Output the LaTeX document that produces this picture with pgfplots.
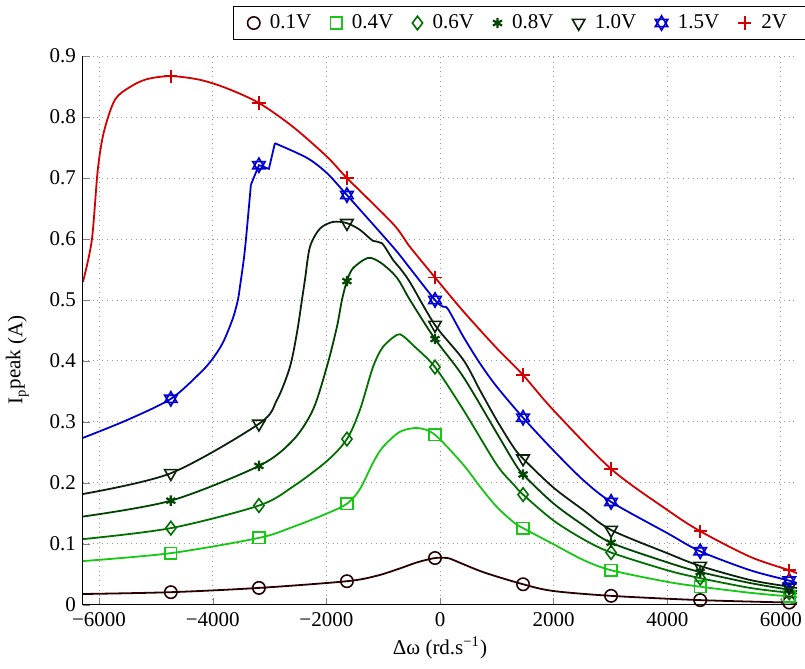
\documentclass[border=0pt]{standalone}
\usepackage{fontspec}
\setmainfont{Liberation Serif}
\usepackage{pgfplots}
\pgfplotsset{compat=1.18}
\usepackage{pgfplotstable}

\definecolor{cA}{RGB}{40,0,0}
\definecolor{cB}{RGB}{20,200,20}
\definecolor{cC}{RGB}{0,112,0}
\definecolor{cD}{RGB}{0,70,0}
\definecolor{cE}{RGB}{10,35,10}
\definecolor{cF}{RGB}{0,0,210}
\definecolor{cG}{RGB}{210,0,0}

\pgfdeclareplotmark{hexagram}{%
  \pgfpathmoveto{\pgfqpoint{0pt}{\pgfplotmarksize}}%
  \pgfpathlineto{\pgfqpoint{0.866\pgfplotmarksize}{-0.5\pgfplotmarksize}}%
  \pgfpathlineto{\pgfqpoint{-0.866\pgfplotmarksize}{-0.5\pgfplotmarksize}}%
  \pgfpathclose
  \pgfpathmoveto{\pgfqpoint{0pt}{-\pgfplotmarksize}}%
  \pgfpathlineto{\pgfqpoint{0.866\pgfplotmarksize}{0.5\pgfplotmarksize}}%
  \pgfpathlineto{\pgfqpoint{-0.866\pgfplotmarksize}{0.5\pgfplotmarksize}}%
  \pgfpathclose
  \pgfusepathqstroke}

% 0.1 V
\pgfplotstableread{
x y
-6283 0.018
-4737 0.021
-3187 0.028
-1638 0.039
-1109 0.048
-704 0.060
-400 0.070
-88 0.077
123 0.077
229 0.074
757 0.054
1462 0.034
1990 0.023
3011 0.015
4579 0.008
6146 0.004
6283 0.004
}\tA
% 0.4 V
\pgfplotstableread{
x y
-6283 0.072
-4737 0.085
-3187 0.110
-2589 0.128
-1990 0.150
-1638 0.166
-1409 0.190
-1180 0.233
-1004 0.259
-704 0.284
-387 0.290
-88 0.279
410 0.230
704 0.194
998 0.161
1291 0.136
1462 0.126
1990 0.100
2518 0.074
3011 0.057
3997 0.038
4579 0.030
5459 0.020
6146 0.014
6283 0.013
}\tB
% 0.6 V
\pgfplotstableread{
x y
-6283 0.108
-4737 0.126
-3187 0.163
-2589 0.194
-1990 0.236
-1638 0.272
-1409 0.320
-1180 0.390
-1004 0.423
-757 0.443
-652 0.441
-475 0.426
-88 0.390
410 0.320
998 0.230
1291 0.198
1462 0.181
1990 0.139
2518 0.108
3011 0.086
3997 0.057
4579 0.044
5459 0.028
6146 0.020
6283 0.019
}\tC
% 0.8 V
\pgfplotstableread{
x y
-6283 0.145
-4737 0.171
-3187 0.228
-2589 0.270
-2236 0.320
-1990 0.391
-1814 0.456
-1726 0.500
-1638 0.531
-1532 0.552
-1268 0.569
-1057 0.562
-828 0.544
-704 0.529
-528 0.500
-88 0.436
410 0.374
998 0.282
1291 0.236
1462 0.214
1990 0.167
2518 0.131
3011 0.102
3997 0.070
4579 0.054
5459 0.036
6146 0.025
6283 0.023
}\tD
% 1.0 V
\pgfplotstableread{
x y
-6283 0.182
-4737 0.216
-3187 0.297
-2870 0.336
-2642 0.390
-2518 0.446
-2430 0.500
-2377 0.533
-2289 0.587
-2113 0.617
-1884 0.628
-1638 0.626
-1409 0.615
-1180 0.597
-1021 0.593
-828 0.566
-704 0.552
-528 0.529
-88 0.459
410 0.402
704 0.352
998 0.303
1291 0.259
1462 0.240
1990 0.193
2518 0.156
3011 0.123
3997 0.085
4579 0.064
5459 0.041
6146 0.030
6283 0.028
}\tE
% 1.5 V (left, zigzag, right)
\pgfplotstableread{
x y
-6283 0.274
-5512 0.303
-4737 0.338
-4226 0.380
-4015 0.402
-3821 0.430
-3645 0.470
-3557 0.500
-3522 0.521
-3434 0.582
-3328 0.689
}\tFa
\pgfplotstableread{
x y
-3328 0.689
-3187 0.721
-3011 0.715
-2906 0.757
}\tFb
\pgfplotstableread{
x y
-2906 0.757
-2342 0.733
-1990 0.708
-1638 0.672
-828 0.587
-528 0.552
-88 0.500
53 0.489
141 0.485
410 0.440
704 0.396
998 0.358
1462 0.307
1990 0.254
2518 0.205
3011 0.169
3997 0.118
4579 0.088
5459 0.057
6146 0.040
6283 0.036
}\tFc
% 2 V
\pgfplotstableread{
x y
-6283 0.530
-6128 0.598
-6023 0.713
-5917 0.775
-5723 0.828
-5459 0.849
-5160 0.862
-4737 0.867
-4226 0.861
-3751 0.847
-3187 0.823
-2589 0.784
-1990 0.735
-1638 0.700
-828 0.625
-528 0.587
-88 0.537
405 0.482
998 0.421
1462 0.377
1990 0.320
3011 0.223
3997 0.156
4579 0.121
5459 0.079
6146 0.057
6283 0.052
}\tG

% marker positions
\pgfplotstableread{
x a b c d e f g
-4737 0.021 0.085 0.126 0.171 0.216 0.338 0.867
-3187 0.028 0.110 0.163 0.228 0.297 0.721 0.823
-1638 0.039 0.166 0.272 0.531 0.626 0.672 0.700
-88 0.077 0.279 0.390 0.436 0.459 0.500 0.537
1462 0.034 0.126 0.181 0.214 0.240 0.307 0.377
3011 0.015 0.057 0.086 0.102 0.123 0.169 0.223
4579 0.008 0.030 0.044 0.054 0.064 0.088 0.121
6146 0.004 0.014 0.020 0.025 0.030 0.040 0.057
}\tM

\begin{document}
\begin{tikzpicture}
\useasboundingbox (-41.5pt,-32pt) rectangle (361pt,302.5pt);
\begin{axis}[
  width=357pt, height=274.5pt, scale only axis,
  xmin=-6283, xmax=6283, ymin=0, ymax=0.9,
  axis x line*=bottom, axis y line*=left,
  tick align=inside, major tick length=3.5pt,
  xtick={-6000,-4000,-2000,0,2000,4000,6000},
  xticklabels={−6000,−4000,−2000,0,2000,4000,6000},
  ytick={0,0.1,0.2,0.3,0.4,0.5,0.6,0.7,0.8,0.9},
  yticklabels={0,0.1,0.2,0.3,0.4,0.5,0.6,0.7,0.8,0.9},
  /pgf/number format/assume math mode=true,
  tick label style={font=\fontsize{10.5}{12}\selectfont},
  label style={font=\fontsize{10.5}{12}\selectfont},
  grid=major, grid style={dotted, gray!80, line width=0.5pt},
  axis line style={line width=0.5pt},
  xlabel={Δω (rd.s\textsuperscript{−1})},
  ylabel={I\textsubscript{p}\raisebox{1pt}{peak} (A)},
  xlabel style={at={(axis description cs:0.5,-0.078)}, anchor=center},
  ylabel style={at={(axis description cs:-0.092,0.446)}, anchor=center},
  legend columns=7,
  legend style={at={(1.012,1.091)}, anchor=north east, draw=black, line width=0.5pt,
    font=\fontsize{10.5}{12}\selectfont, inner ysep=2pt, inner xsep=7pt,
    /tikz/every odd column/.append style={column sep=3pt},
    /tikz/every even column/.append style={column sep=7.5pt}},
  every axis plot/.append style={line width=0.9pt},
]
\addplot[cA, smooth, tension=0.5, forget plot] table {\tA};
\addplot[cB, smooth, tension=0.5, forget plot] table {\tB};
\addplot[cC, smooth, tension=0.5, forget plot] table {\tC};
\addplot[cD, smooth, tension=0.5, forget plot] table {\tD};
\addplot[cE, smooth, tension=0.5, forget plot] table {\tE};
\addplot[cF, smooth, tension=0.5, forget plot] table {\tFa};
\addplot[cF, forget plot] table {\tFb};
\addplot[cF, smooth, tension=0.5, forget plot] table {\tFc};
\addplot[cG, smooth, tension=0.5, forget plot] table {\tG};

\addplot[cA, only marks, mark=o, mark size=3.1pt, mark options={line width=0.8pt}] table[x=x,y=a] {\tM};
\addlegendentry{0.1V}
\addplot[cB, only marks, mark=square, mark size=2.9pt, mark options={line width=0.8pt}] table[x=x,y=b] {\tM};
\addlegendentry{0.4V}
\addplot[cC, only marks, mark=diamond, mark size=3.4pt, mark options={line width=0.8pt}] table[x=x,y=c] {\tM};
\addlegendentry{0.6V}
\addplot[cD, only marks, mark=asterisk, mark size=2.6pt, mark options={line width=1.1pt}] table[x=x,y=d] {\tM};
\addlegendentry{0.8V}
\addplot[cE, only marks, mark=triangle, mark size=3.6pt, mark options={rotate=180, line width=0.8pt}] table[x=x,y=e] {\tM};
\addlegendentry{1.0V}
\addplot[cF, only marks, mark=hexagram, mark size=3.6pt, mark options={line width=0.8pt}] table[x=x,y=f] {\tM};
\addlegendentry{1.5V}
\addplot[cG, only marks, mark=+, mark size=3.3pt, mark options={line width=0.9pt}] table[x=x,y=g] {\tM};
\addlegendentry{2V}
\end{axis}
\end{tikzpicture}
\end{document}
